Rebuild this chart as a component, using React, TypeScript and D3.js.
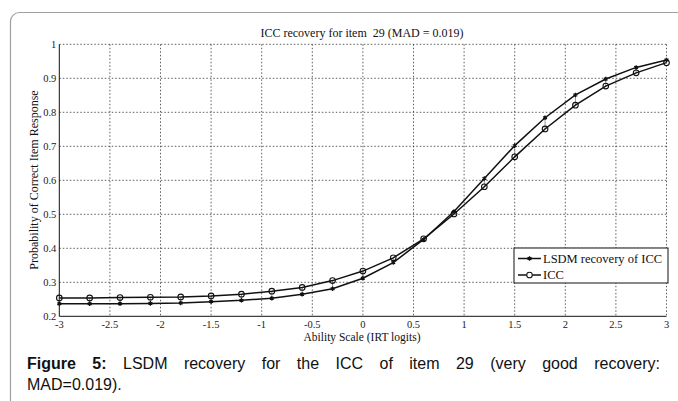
import { useEffect, useRef } from "react"
import * as d3 from "d3"

// ability points (logits)
const abilities = [-3, -2.7, -2.4, -2.1, -1.8, -1.5, -1.2, -0.9, -0.6, -0.3, 0, 0.3, 0.6, 0.9, 1.2, 1.5, 1.8, 2.1, 2.4, 2.7, 3]
const iccValues = [0.254, 0.254, 0.255, 0.256, 0.257, 0.26, 0.265, 0.274, 0.285, 0.305, 0.333, 0.372, 0.428, 0.501, 0.581, 0.669, 0.751, 0.821, 0.877, 0.916, 0.946]
const lsdmValues = [0.237, 0.237, 0.237, 0.238, 0.239, 0.243, 0.247, 0.253, 0.265, 0.281, 0.312, 0.358, 0.426, 0.508, 0.605, 0.702, 0.784, 0.851, 0.898, 0.932, 0.954]
const xTicks = [-3, -2.5, -2, -1.5, -1, -0.5, 0, 0.5, 1, 1.5, 2, 2.5, 3]
const yTicks = [0.2, 0.3, 0.4, 0.5, 0.6, 0.7, 0.8, 0.9, 1]
const legendLabels = ["LSDM recovery of ICC", "ICC"]

const title = "ICC recovery for item  29 (MAD = 0.019)"
const captionBold = "Figure 5:"
const captionLine1 = "LSDM recovery for the ICC of item 29 (very good recovery:"
const captionLine2 = "MAD=0.019)."

const W = 678
const H = 401
const serif = "'Liberation Serif', 'Times New Roman', serif"
const sans = "'Liberation Sans', Arial, sans-serif"

export default function App() {
  const svgRef = useRef<SVGSVGElement>(null)

  useEffect(() => {
    if (!svgRef.current) return
    const svg = d3.select(svgRef.current)
    svg.selectAll("*").remove()

    const x = d3.scaleLinear().domain([-3, 3]).range([59.3, 666.5])
    const y = d3.scaleLinear().domain([0.2, 1]).range([316.3, 44.3])

    // outer frame
    svg
      .append("rect")
      .attr("x", 10.5)
      .attr("y", 12.5)
      .attr("width", 720)
      .attr("height", 420)
      .attr("rx", 9)
      .attr("fill", "#fff")
      .attr("stroke", "#a0a0a0")
      .attr("stroke-width", 1.2)

    // grid
    const grid = svg.append("g").attr("stroke", "#333").attr("stroke-width", 0.8).attr("stroke-dasharray", "1.5,2")
    grid
      .selectAll("line.v")
      .data(xTicks.slice(1))
      .enter()
      .append("line")
      .attr("x1", (d) => x(d))
      .attr("x2", (d) => x(d))
      .attr("y1", y(1))
      .attr("y2", y(0.2))
    grid
      .selectAll("line.h")
      .data(yTicks.slice(1))
      .enter()
      .append("line")
      .attr("x1", x(-3))
      .attr("x2", x(3))
      .attr("y1", (d) => y(d))
      .attr("y2", (d) => y(d))

    // axes (left + bottom solid)
    svg
      .append("path")
      .attr("d", `M${x(-3)},${y(1)}V${y(0.2)}H${x(3)}`)
      .attr("fill", "none")
      .attr("stroke", "#111")
      .attr("stroke-width", 1)

    svg
      .selectAll("text.yt")
      .data(yTicks)
      .enter()
      .append("text")
      .attr("x", x(-3) - 3)
      .attr("y", (d) => y(d) + 3.5)
      .attr("text-anchor", "end")
      .attr("font-family", serif)
      .attr("font-size", 10.5)
      .attr("fill", "#222")
      .text((d) => String(d))

    svg
      .selectAll("text.xt")
      .data(xTicks)
      .enter()
      .append("text")
      .attr("x", (d) => x(d))
      .attr("y", y(0.2) + 12)
      .attr("text-anchor", "middle")
      .attr("font-family", serif)
      .attr("font-size", 10.5)
      .attr("fill", "#222")
      .text((d) => (d < 0 ? "-" + Math.abs(d) : String(d)))

    // titles
    svg
      .append("text")
      .attr("x", 362)
      .attr("y", 37)
      .attr("text-anchor", "middle")
      .attr("font-family", serif)
      .attr("font-size", 12)
      .attr("fill", "#111")
      .style("white-space", "pre")
      .text(title)

    svg
      .append("text")
      .attr("x", 362)
      .attr("y", 341)
      .attr("text-anchor", "middle")
      .attr("font-family", serif)
      .attr("font-size", 11.5)
      .attr("fill", "#111")
      .text("Ability Scale (IRT logits)")

    svg
      .append("text")
      .attr("transform", `translate(38,180) rotate(-90)`)
      .attr("text-anchor", "middle")
      .attr("font-family", serif)
      .attr("font-size", 12)
      .attr("fill", "#111")
      .text("Probability of Correct Item Response")

    // difference connectors
    svg
      .append("g")
      .selectAll("line")
      .data(abilities)
      .enter()
      .append("line")
      .attr("x1", (d) => x(d))
      .attr("x2", (d) => x(d))
      .attr("y1", (d, i) => y(iccValues[i]))
      .attr("y2", (d, i) => y(lsdmValues[i]))
      .attr("stroke", "#777")
      .attr("stroke-width", 0.8)

    const line = d3
      .line<number>()
      .x((d, i) => x(abilities[i]))
      .y((d) => y(d))

    svg.append("path").attr("d", line(iccValues)).attr("fill", "none").attr("stroke", "#111").attr("stroke-width", 1.5)
    svg.append("path").attr("d", line(lsdmValues)).attr("fill", "none").attr("stroke", "#111").attr("stroke-width", 1.5)

    const star = d3.symbol().type(d3.symbolAsterisk).size(14)

    svg
      .append("g")
      .selectAll("circle")
      .data(iccValues)
      .enter()
      .append("circle")
      .attr("cx", (d, i) => x(abilities[i]))
      .attr("cy", (d) => y(d))
      .attr("r", 2.8)
      .attr("fill", "none")
      .attr("stroke", "#111")
      .attr("stroke-width", 1.1)

    svg
      .append("g")
      .selectAll("path")
      .data(lsdmValues)
      .enter()
      .append("path")
      .attr("transform", (d, i) => `translate(${x(abilities[i])},${y(d)})`)
      .attr("d", star)
      .attr("fill", "none")
      .attr("stroke", "#111")
      .attr("stroke-width", 1.3)

    // legend
    const lg = svg.append("g")
    lg.append("rect")
      .attr("x", 514)
      .attr("y", 248)
      .attr("width", 154)
      .attr("height", 35)
      .attr("fill", "#fff")
      .attr("stroke", "#111")
      .attr("stroke-width", 1)
    legendLabels.forEach((label, i) => {
      const ly = 258.5 + i * 16.5
      lg.append("line").attr("x1", 518).attr("x2", 541).attr("y1", ly).attr("y2", ly).attr("stroke", "#111").attr("stroke-width", 1.5)
      if (i === 0) {
        lg.append("path").attr("transform", `translate(529.5,${ly})`).attr("d", star).attr("fill", "none").attr("stroke", "#111").attr("stroke-width", 1.3)
      } else {
        lg.append("circle").attr("cx", 529.5).attr("cy", ly).attr("r", 2.8).attr("fill", "#fff").attr("stroke", "#111").attr("stroke-width", 1.1)
      }
      lg.append("text")
        .attr("x", 543)
        .attr("y", ly + 4)
        .attr("font-family", serif)
        .attr("font-size", 12.5)
        .attr("fill", "#111")
        .text(label)
    })

    // caption, first line justified between 27 and 660
    const words = [...captionBold.split(" "), ...captionLine1.split(" ")]
    const nodes = words.map((w, i) =>
      svg
        .append("text")
        .attr("y", 369)
        .attr("font-family", sans)
        .attr("font-size", 16)
        .attr("font-weight", i < 2 ? "bold" : "normal")
        .attr("fill", "#111")
        .text(w)
    )
    const widths = nodes.map((n) => (n.node() as SVGTextElement).getComputedTextLength())
    const gap = (660 - 27 - d3.sum(widths)) / (words.length - 1)
    let cx = 27
    nodes.forEach((n, i) => {
      n.attr("x", cx)
      cx += widths[i] + gap
    })
    svg
      .append("text")
      .attr("x", 27)
      .attr("y", 390)
      .attr("font-family", sans)
      .attr("font-size", 16)
      .attr("fill", "#111")
      .text(captionLine2)
  }, [])

  return (
    <svg
      ref={svgRef}
      width={W}
      height={H}
      style={{ position: "absolute", left: 0, top: 0, background: "#fff" }}
    />
  )
}
